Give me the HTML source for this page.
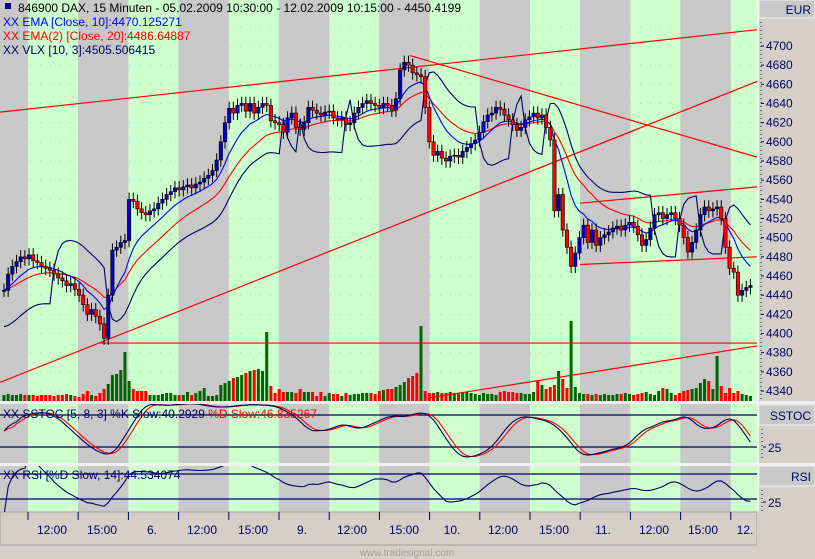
<!DOCTYPE html>
<html><head><meta charset="utf-8"><style>
html,body{margin:0;padding:0;background:#d4d0c8;}
#wrap{position:relative;width:815px;height:559px;overflow:hidden;font-family:"Liberation Sans",sans-serif;}
svg text{font-family:"Liberation Sans",sans-serif;}
</style></head><body>
<div id="wrap">
<svg id="c" width="815" height="559" xmlns="http://www.w3.org/2000/svg"></svg>
</div>
<script>
// ---- data ----
const closes = [4445,4462,4470,4475,4480,4478,4482,4476,4474,4470,
4468,4466,4462,4458,4455,4450,4452,4446,4440,4430,
4420,4425,4418,4410,4395,4440,4487,4490,4495,4497,
4540,4538,4530,4526,4524,4528,4530,4536,4540,4545,
4548,4552,4550,4553,4555,4552,4556,4558,4562,4565,
4570,4581,4600,4620,4635,4630,4638,4640,4632,4640,
4630,4636,4640,4638,4622,4620,4618,4610,4625,4630,
4615,4613,4620,4636,4633,4630,4628,4631,4632,4625,
4623,4625,4618,4620,4630,4636,4640,4643,4640,4638,
4636,4640,4638,4633,4645,4675,4683,4680,4672,4670,
4668,4636,4600,4586,4590,4583,4580,4585,4586,4584,
4590,4594,4598,4602,4610,4621,4628,4630,4636,4634,
4628,4623,4618,4612,4615,4623,4626,4630,4625,4628,
4615,4602,4528,4545,4508,4490,4470,4484,4500,4513,
4495,4508,4492,4500,4503,4506,4510,4512,4508,4513,
4516,4512,4503,4492,4498,4510,4524,4526,4520,4524,
4526,4520,4513,4500,4485,4495,4508,4524,4532,4528,
4530,4532,4520,4490,4468,4464,4440,4445,4448,4450];
const volumes = [6,7,6,6,7,6,6,6,5,6,
6,6,5,6,6,7,6,5,4,7,
10,6,5,8,12,17,26,27,31,49,
20,12,10,10,10,6,6,6,7,8,
8,6,6,6,9,6,8,10,13,5,
5,6,16,18,20,23,24,26,28,30,
31,32,30,69,15,8,12,9,9,9,
8,12,9,9,9,5,9,5,8,7,
7,5,8,6,7,7,8,8,8,7,
10,11,12,12,14,16,19,23,25,28,
75,10,8,8,9,8,8,9,8,8,
9,9,8,7,6,8,7,7,6,9,
10,9,9,8,8,7,7,9,20,16,
12,14,16,30,22,13,80,14,8,7,
7,6,7,6,7,6,6,7,7,8,
7,6,7,8,9,7,6,10,13,12,
8,6,8,10,11,12,13,18,22,20,
12,45,15,8,13,8,10,7,6,5];
const priceTicks = [4340,4360,4380,4400,4420,4440,4460,4480,4500,4520,4540,4560,4580,4600,4620,4640,4660,4680,4700];
const timeLabels = ["12:00","15:00","6.","12:00","15:00","9.","12:00","15:00","10.","12:00","15:00","11.","12:00","15:00","12."];
const timeLabelX = [52,102,152,202,253,302,352,404,452,503,554,603,654,703,745];
const tlPrice = [[0,4631,757,4717],[0,4349,757,4663],[410,4690,757,4584],[100,4390,757,4390],[430,4333,757,4387],[580,4536,757,4553],[580,4472,757,4480]];

// ---- geometry ----
const svg = document.getElementById('c');
const NS = 'http://www.w3.org/2000/svg';
const PW = 757;
const N = closes.length;
const xB = i => 4 + i*4.17;
const yP = v => 46 + (4700 - v)*0.9583;
const yS = v => 447 - (v-25)*0.64;
const yR = v => 499 - (v-25)*0.5;
function el(tag, attrs, parent){const e=document.createElementNS(NS,tag);for(const k in attrs)e.setAttribute(k,attrs[k]);(parent||svg).appendChild(e);return e;}

el('rect',{x:0,y:0,width:815,height:559,fill:'#d4d0c8'});
function panelBg(y0,y1,name){
  const g=el('g',{});
  
  
  el('rect',{x:0,y:y0,width:PW,height:y1-y0,fill:'#c8c8c8'},g);
  for(let k=0;k<8;k++){const x0=28+k*100.4;el('rect',{x:x0,y:y0,width:Math.min(50,PW-x0),height:y1-y0,fill:'#ccffcc'},g);}
  return g;
}
panelBg(0,401,'price-panel');
panelBg(404,463,'sstoc-panel');
panelBg(466,512,'rsi-panel');
el('rect',{x:0,y:401,width:815,height:3,fill:'#f0f0f0'});
el('rect',{x:0,y:463,width:815,height:3,fill:'#f0f0f0'});
el('rect',{x:757,y:0,width:2,height:512,fill:'#f0f0f0'});
el('rect',{x:0,y:512,width:757,height:33,fill:'#d4d0c8',stroke:'#a0a0a0'});
el('rect',{x:757,y:512,width:58,height:47,fill:'#d4d0c8'});

const grid=el('g',{});


priceTicks.concat([4720]).forEach(v=>{el('line',{x1:0,x2:PW,y1:yP(v),y2:yP(v),stroke:'#b0d0b0','stroke-dasharray':'1,9'},grid);});

const ax=el('g',{});


el('rect',{x:759,y:0,width:56,height:18,fill:'#c8c8c8',stroke:'#f0f0f0'},ax);
const eur=el('text',{x:811,y:14,'text-anchor':'end','font-size':'12',fill:'#000066'},ax);eur.textContent='EUR';
el('line',{x1:761,x2:761,y1:22,y2:401,stroke:'#000066','stroke-dasharray':'1,3'},ax);
priceTicks.forEach(v=>{
  const y=yP(v);
  el('line',{x1:761,x2:764,y1:y,y2:y,stroke:'#000066'},ax);
  const t=el('text',{x:766,y:y+4,'font-size':'12',fill:'#000066'},ax);t.textContent=v;
});
function sideBox(y0,label,name,y25){
  const g=el('g',{});
  
  
  el('rect',{x:759,y:y0,width:56,height:20,fill:'#c8c8c8',stroke:'#f0f0f0'},g);
  const t=el('text',{x:811,y:y0+15,'text-anchor':'end','font-size':'12',fill:'#000066'},g);t.textContent=label;
  el('line',{x1:762,x2:762,y1:y0+24,y2:y25+12,stroke:'#000066','stroke-dasharray':'1,3'},g);
  el('line',{x1:763,x2:766,y1:y25,y2:y25,stroke:'#000066'},g);
  const t2=el('text',{x:768,y:y25+5,'font-size':'12',fill:'#000066'},g);t2.textContent='25';
}
sideBox(405,'SSTOC','sstoc-axis',447);
sideBox(466,'RSI','rsi-axis',502);

// ---- indicators ----
function ema(arr,p){const k=2/(p+1);const o=[];arr.forEach((v,i)=>o.push(i?o[i-1]+k*(v-o[i-1]):v));return o;}
const opens = closes.map((c,i)=>i?closes[i-1]:c);
const highs = closes.map((c,i)=>Math.max(c,opens[i])+7);
const lows = closes.map((c,i)=>Math.min(c,opens[i])-7);
const ema10=ema(closes,10), ema20=ema(closes,20);
const vlxRaw=closes.map((c,i)=>c>=ema20[i]?ema10[i]-38:ema10[i]+38);
const vlx=ema(vlxRaw,3);

const clipDefs=el('defs',{});
const cp=el('clipPath',{id:'mainclip'},clipDefs);el('rect',{x:0,y:0,width:PW,height:401},cp);
const cp2=el('clipPath',{id:'sclip'},clipDefs);el('rect',{x:0,y:404,width:PW,height:59},cp2);
const cp3=el('clipPath',{id:'rclip'},clipDefs);el('rect',{x:0,y:466,width:PW,height:46},cp3);

const vg=el('g',{'clip-path':'url(#mainclip)'});


volumes.forEach((v,i)=>{
  const up = v>40 || closes[i]>=opens[i];
  const r=el('rect',{x:xB(i)-1.5,y:401-v,width:3,height:v,fill:up?'#006600':'#ff0000'},vg);
  
  
});

const tg=el('g',{'clip-path':'url(#mainclip)'});


tlPrice.forEach(l=>{
  const ln=el('line',{x1:l[0],y1:yP(l[1]),x2:l[2],y2:yP(l[3]),stroke:'#ff0000','stroke-width':1.2},tg);
  
  
});

function poly(arr,yf,color,name,clip){
  const p=el('polyline',{points:arr.map((v,i)=>xB(i).toFixed(1)+','+yf(v).toFixed(1)).join(' '),fill:'none',stroke:color,'stroke-width':1.1,'clip-path':clip});
  
  
}
poly(vlx,yP,'#000066','vlx-line','url(#mainclip)');
poly(ema20,yP,'#ff0000','ema20-line','url(#mainclip)');
poly(ema10,yP,'#0000ff','ema10-line','url(#mainclip)');

const cg=el('g',{'clip-path':'url(#mainclip)'});


closes.forEach((c,i)=>{
  const x=xB(i),o=opens[i];
  el('line',{x1:x,x2:x,y1:yP(highs[i]),y2:yP(lows[i]),stroke:'#000','stroke-width':1},cg);
  const top=yP(Math.max(o,c)),h=Math.max(1,yP(Math.min(o,c))-top);
  const r=el('rect',{x:x-1.7,y:top,width:3.4,height:h,fill:c>=o?'#0000cc':'#ff0000',stroke:'#000','stroke-width':0.6},cg);
  
  
});

const rawK=closes.map((c,i)=>{let hh=-1e9,ll=1e9;for(let j=Math.max(0,i-15);j<=i;j++){hh=Math.max(hh,highs[j]);ll=Math.min(ll,lows[j]);}return hh>ll?100*(c-ll)/(hh-ll):50;});
const sma=(a,p)=>a.map((v,i)=>{let s=0,n=0;for(let j=Math.max(0,i-p+1);j<=i;j++){s+=a[j];n++;}return s/n;});
const kSlow=sma(sma(rawK,8),4), dSlow=sma(kSlow,3);
el('line',{x1:0,x2:PW,y1:415,y2:415,stroke:'#000066','stroke-width':1.2});
el('line',{x1:0,x2:PW,y1:447,y2:447,stroke:'#000066','stroke-width':1.2});
poly(dSlow,yS,'#ff0000','stoch-d-line','url(#sclip)');
poly(kSlow,yS,'#000066','stoch-k-line','url(#sclip)');

const gains=[0],losses=[0];
for(let i=1;i<N;i++){const d=closes[i]-closes[i-1];gains.push(Math.max(d,0));losses.push(Math.max(-d,0));}
const ag=ema(gains,15),al=ema(losses,15);
const rsi=sma(ag.map((g,i)=>{const r=100*g/(g+al[i]+1e-9);return 50+(r-50)*1.15;}),6);
el('line',{x1:0,x2:PW,y1:474,y2:474,stroke:'#000066','stroke-width':1.2});
el('line',{x1:0,x2:PW,y1:499,y2:499,stroke:'#000066','stroke-width':1.2});
poly(rsi,yR,'#000066','rsi-line','url(#rclip)');

const tax=el('g',{});


for(let k=0;k<15;k++){const x=28+k*50.2;if(x<PW)el('line',{x1:x,x2:x,y1:512,y2:520,stroke:'#000066'},tax);}
timeLabels.forEach((s,i)=>{const t=el('text',{x:timeLabelX[i],y:534,'text-anchor':'middle','font-size':'12',fill:'#000066'},tax);t.textContent=s;});
const wm=el('text',{x:407,y:556,'text-anchor':'middle','font-size':'10',fill:'#a0a0a0'});wm.textContent='www.tradesignal.com';



function txt(x,y,s,color,name){const t=el('text',{x:x,y:y,'font-size':'12',fill:color});t.textContent=s;return t;}
el('rect',{x:5,y:3,width:6,height:6,fill:'#000099'});
txt(18,12,'846900  DAX, 15 Minuten - 05.02.2009 10:30:00 - 12.02.2009 10:15:00 - 4450.4199','#000','chart-title');
txt(3,26,'XX EMA [Close, 10]:4470.125271','#0000ff','legend-ema10');
txt(3,40,'XX EMA(2) [Close, 20]:4486.64887','#ff0000','legend-ema20');
txt(3,54,'XX VLX [10, 3]:4505.506415','#000066','legend-vlx');
const sl=el('text',{x:3,y:418,'font-size':'12',fill:'#000066'});


sl.innerHTML='XX SSTOC [5, 8, 3] %K Slow:40.2929 <tspan fill="#ff0000">%D Slow:46.835267</tspan>';
txt(3,479,'XX RSI [%D Slow, 14]:44.534074','#000066','legend-rsi');
</script>
</body></html>
